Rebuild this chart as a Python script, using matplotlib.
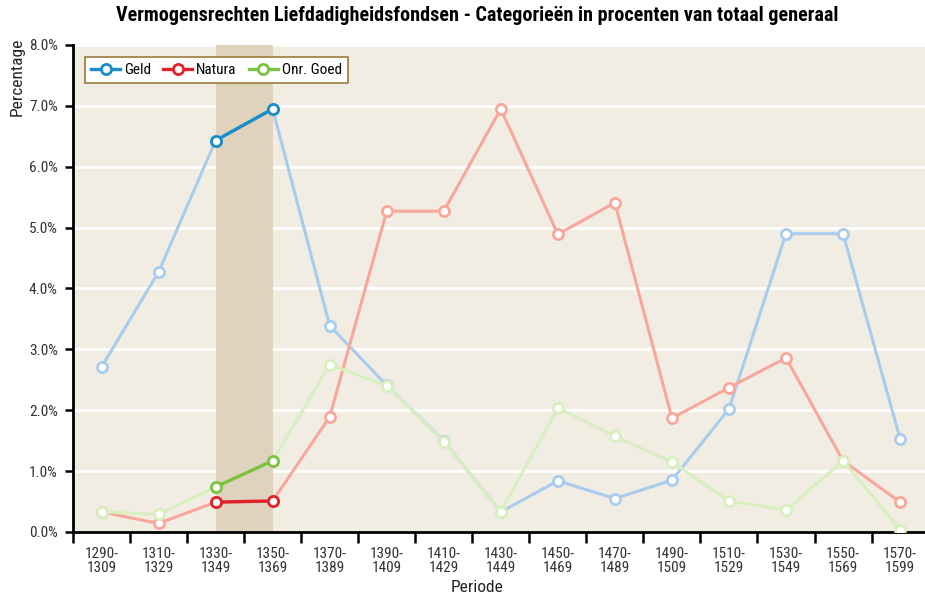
import matplotlib
matplotlib.use("Agg")
import matplotlib.pyplot as plt
from matplotlib import font_manager as fm
from matplotlib.lines import Line2D
from matplotlib.ticker import FixedLocator, NullFormatter, FuncFormatter

periods = ["1290-\n1309", "1310-\n1329", "1330-\n1349", "1350-\n1369",
           "1370-\n1389", "1390-\n1409", "1410-\n1429", "1430-\n1449",
           "1450-\n1469", "1470-\n1489", "1490-\n1509", "1510-\n1529",
           "1530-\n1549", "1550-\n1569", "1570-\n1599"]
geld = [2.71, 4.27, 6.43, 6.95, 3.39, 2.41, 1.49, 0.33, 0.84, 0.55,
        0.85, 2.02, 4.90, 4.90, 1.53]
natura = [0.33, 0.14, 0.49, 0.51, 1.89, 5.27, 5.27, 6.95, 4.89, 5.41,
          1.87, 2.37, 2.86, 1.17, 0.49]
onr_goed = [0.33, 0.29, 0.74, 1.17, 2.75, 2.40, 1.48, 0.33, 2.04, 1.57,
            1.15, 0.51, 0.36, 1.17, 0.04]
highlight = (2, 3)  # 1330-1349 .. 1350-1369

SERIES = [
    # label, values, strong color, faded color
    ("Geld", geld, "#1a8cc8", "#a8cdec"),
    ("Natura", natura, "#e2222b", "#f8a89a"),
    ("Onr. Goed", onr_goed, "#7cc242", "#d8efbf"),
]

# condensed sans, closest to the Univers Condensed look of the original
installed = {f.name for f in fm.fontManager.ttflist}
for cand in ("Roboto Condensed", "Liberation Sans Narrow", "Archivo Narrow",
             "PT Sans Narrow", "Fira Sans Condensed", "Barlow Condensed",
             "IBM Plex Sans Condensed", "Encode Sans Condensed", "Roboto"):
    if cand in installed:
        FONT = cand
        break
else:
    FONT = "DejaVu Sans"
plt.rcParams["font.family"] = [FONT, "DejaVu Sans"]

MS = 7.3

fig = plt.figure(figsize=(9.25, 5.96), dpi=100)
ax = fig.add_axes([0.0789, 0.1074, 0.925, 0.8171])
ax.set_facecolor("#f2ede3")

x = list(range(len(periods)))
lo, hi = highlight
ax.axvspan(lo, hi, color="#dfd3bd", zorder=1, lw=0)

for label, vals, strong, faded in SERIES:
    ax.plot(x, vals, color=faded, lw=2.2, marker="o", ms=MS,
            mfc="white", mec=faded, mew=2.0, zorder=3)
for label, vals, strong, faded in SERIES:
    ax.plot(x[lo:hi + 1], vals[lo:hi + 1], color=strong, lw=2.4,
            marker="o", ms=MS, mfc="white", mec=strong, mew=2.0, zorder=4)

ax.set_xlim(-0.5, len(periods) - 0.5)
ax.set_ylim(0, 8)
ax.set_yticks([i for i in range(9)])
ax.yaxis.set_major_formatter(FuncFormatter(lambda v, p: f"{v:.1f}%"))
ax.grid(axis="y", color="white", lw=2, zorder=2)
ax.set_axisbelow(True)

ax.xaxis.set_major_locator(FixedLocator([i - 0.5 for i in range(len(periods) + 1)]))
ax.xaxis.set_major_formatter(NullFormatter())
ax.set_xticks(x, minor=True)
ax.set_xticklabels(periods, minor=True, fontsize=11, color="#333333",
                   linespacing=1.0)
ax.tick_params(axis="x", which="minor", length=0, pad=11)
ax.tick_params(axis="x", which="major", length=8, width=1.8, direction="out")
ax.tick_params(axis="y", length=6, width=1.8, labelsize=11, pad=5,
               labelcolor="#333333")

for s in ("top", "right"):
    ax.spines[s].set_visible(False)
for s in ("left", "bottom"):
    ax.spines[s].set_linewidth(2)
    ax.spines[s].set_color("black")

fig.text(0.516, 0.0135, "Periode", ha="center", va="center",
         fontsize=12.5, color="#222222")
fig.text(0.010, 0.937, "Percentage", rotation=90, va="top", ha="left",
         fontsize=12.5, color="#222222")
fig.suptitle("Vermogensrechten Liefdadigheidsfondsen - Categorieën in procenten van totaal generaal",
             fontsize=14.5, fontweight="bold", x=0.516, y=0.99)

handles = [Line2D([], [], color=c, lw=2.4, marker="o", ms=MS, mfc="white",
                  mec=c, mew=2.0, label=l) for l, _, c, _ in SERIES]
leg = ax.legend(handles=handles, loc="upper left", ncol=3, fontsize=11,
                frameon=True, fancybox=False, handlelength=1.9,
                handletextpad=0.25, columnspacing=0.8, borderpad=0.4,
                borderaxespad=0, bbox_to_anchor=(0.014, 0.975))
leg.get_frame().set_edgecolor("#9c7a3c")
leg.get_frame().set_linewidth(1.2)
leg.get_frame().set_facecolor("white")
leg.get_frame().set_alpha(1)

fig.savefig("out.png", dpi=100)
